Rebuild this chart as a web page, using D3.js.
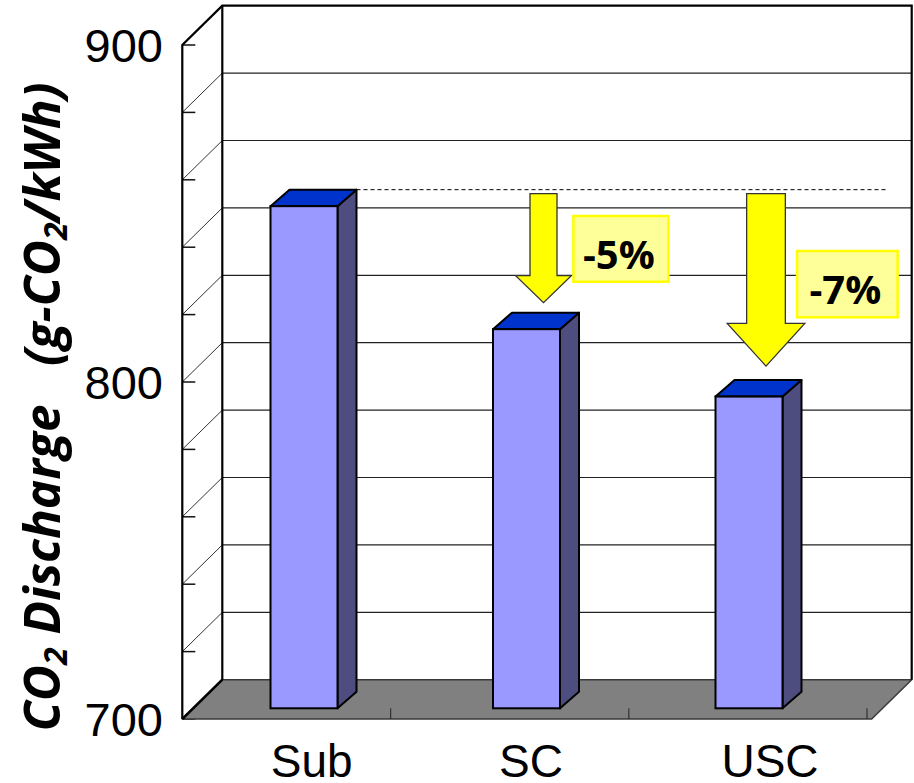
<!DOCTYPE html>
<html>
<head>
<meta charset="utf-8">
<script src="https://cdn.jsdelivr.net/npm/d3@7"></script>
<style>
  html, body { margin: 0; padding: 0; background: #ffffff; }
  svg { display: block; }
  text { white-space: pre; }
</style>
</head>
<body>
<svg id="chart" width="914" height="783"></svg>
<script>
// ---------------- data ----------------
const categories = ["Sub", "SC", "USC"];
const values = [849, 812.5, 792.5];           // g-CO2/kWh
const yTickLabels = [700, 800, 900];
const gridValues = [700, 720, 740, 760, 780, 800, 820, 840, 860, 880, 900];
const changeLabels = [null, "-5%", "-7%"];

// ---------------- layout / style ----------------
const W = 914, H = 783;
const axisX = 182.3;           // front-left vertical axis
const floorRightX = 871.7;     // front-right corner of floor
const DX = 40, DY = -39.3;     // wall depth offset
const barFrontDY = -10.7;      // bars sit a bit behind the front edge
const BDX = 19, BDY = -16.5;   // bar depth offset
const barW = 67;

// arrow styles (per category index)
const arrowShaft = [0, 27, 38.7];
const arrowHeadW = [0, 55.7, 77.6];
const arrowHeadH = [0, 27, 42.7];
const arrowGap = [0, 10, 14];
const boxW = [0, 95, 100.6];
const boxH = [0, 65.7, 66.3];
const boxDX = [0, 16.4, 11.7];
const boxTop = [0, 216, 251];

const colFront = "#9999ff", colSide = "#4d4d80", colTop = "#0033cc";

const svg = d3.select("#chart");

const yFront = d3.scaleLinear().domain([700, 900]).range([719, 45]);
const yBar = v => yFront(v) + barFrontDY;
const xC = d3.scalePoint().domain(categories).range([304, 749]);
const xTick = d3.scalePoint().domain(categories).range([390.7, 867]);

const yBack = v => yFront(v) + DY;
const backL = axisX + DX, backR = floorRightX + DX;

// back wall
svg.append("rect")
  .attr("x", backL).attr("y", yBack(900))
  .attr("width", backR - backL).attr("height", yBack(700) - yBack(900))
  .attr("fill", "#ffffff");

// back-wall gridlines
svg.append("g").selectAll("line")
  .data(gridValues.filter(v => v > 700 && v < 900))
  .join("line")
  .attr("x1", backL).attr("x2", backR)
  .attr("y1", d => yBack(d)).attr("y2", d => yBack(d))
  .attr("stroke", "#222").attr("stroke-width", 1.2);

// side-wall diagonals
svg.append("g").selectAll("line")
  .data(gridValues.filter(v => v > 700 && v < 900))
  .join("line")
  .attr("x1", axisX).attr("x2", axisX + DX)
  .attr("y1", d => yFront(d)).attr("y2", d => yBack(d))
  .attr("stroke", "#333").attr("stroke-width", 1);

// front axis tick marks
svg.append("g").selectAll("line")
  .data(gridValues)
  .join("line")
  .attr("x1", axisX).attr("x2", axisX + 13)
  .attr("y1", d => yFront(d)).attr("y2", d => yFront(d))
  .attr("stroke", "#111").attr("stroke-width", 1.5);

// floor
const floorPts = [
  [axisX, yFront(700)], [axisX + DX, yBack(700)],
  [backR, yBack(700)], [floorRightX, yFront(700)]
];
svg.append("polygon")
  .attr("points", floorPts.map(p => p.join(",")).join(" "))
  .attr("fill", "#808080").attr("stroke", "#3a3a3a").attr("stroke-width", 1.5)
  .attr("stroke-linejoin", "round");

// floor ticks
svg.append("g").selectAll("line")
  .data(categories)
  .join("line")
  .attr("x1", d => xTick(d)).attr("x2", d => xTick(d))
  .attr("y1", yBar(700)).attr("y2", yFront(700))
  .attr("stroke", "#222").attr("stroke-width", 1);

// wall outlines
const outline = svg.append("g").attr("fill", "none").attr("stroke", "#000");
outline.append("path")
  .attr("d", `M${axisX},${yFront(700)} L${axisX},${yFront(900)} L${backL},${yBack(900)} L${backR},${yBack(900)} L${backR},${yBack(700)}`)
  .attr("stroke-width", 2.2).attr("stroke-linejoin", "miter");
outline.append("line")
  .attr("x1", backL).attr("x2", backL)
  .attr("y1", yBack(900)).attr("y2", yBack(700))
  .attr("stroke-width", 2.2);
outline.append("line")
  .attr("x1", axisX).attr("x2", backL)
  .attr("y1", yFront(700)).attr("y2", yBack(700))
  .attr("stroke-width", 2.5);

// bars
const bars = svg.append("g").selectAll("g")
  .data(categories.map((c, i) => ({ c, v: values[i], i })))
  .join("g");

bars.each(function (d) {
  const g = d3.select(this);
  const xl = xC(d.c) - barW / 2, xr = xC(d.c) + barW / 2;
  const yt = yBar(d.v), yb = yBar(700);
  g.append("polygon")
    .attr("points", [[xr, yt], [xr + BDX, yt + BDY], [xr + BDX, yb + BDY], [xr, yb]].map(p => p.join(",")).join(" "))
    .attr("fill", colSide).attr("stroke", "#000").attr("stroke-width", 2).attr("stroke-linejoin", "round");
  g.append("polygon")
    .attr("points", [[xl, yt], [xl + BDX, yt + BDY], [xr + BDX, yt + BDY], [xr, yt]].map(p => p.join(",")).join(" "))
    .attr("fill", colTop).attr("stroke", "#000").attr("stroke-width", 2).attr("stroke-linejoin", "round");
  g.append("rect")
    .attr("x", xl).attr("y", yt).attr("width", barW).attr("height", yb - yt)
    .attr("fill", colFront).attr("stroke", "#000").attr("stroke-width", 2);
});

// dashed reference line at the Sub top
const refY = yBar(values[0]) + BDY;
svg.append("line")
  .attr("x1", xC(categories[0]) + barW / 2 + BDX).attr("x2", 888)
  .attr("y1", refY).attr("y2", refY)
  .attr("stroke", "#000").attr("stroke-width", 1).attr("stroke-dasharray", "4,3");

// arrows + labels
categories.forEach((c, i) => {
  if (!changeLabels[i]) return;
  const cx = xC(c) + 17;
  const top = refY + 4;
  const tip = yBar(values[i]) + BDY - arrowGap[i];
  const sw = arrowShaft[i] / 2, hw = arrowHeadW[i] / 2, hs = tip - arrowHeadH[i];
  const pts = [[cx - sw, top], [cx + sw, top], [cx + sw, hs], [cx + hw, hs], [cx, tip], [cx - hw, hs], [cx - sw, hs]];
  svg.append("polygon")
    .attr("points", pts.map(p => p.join(",")).join(" "))
    .attr("fill", "#ffff00").attr("stroke", "#333").attr("stroke-width", 1.3).attr("stroke-linejoin", "miter");

  const bx = cx + sw + boxDX[i], by = boxTop[i];
  svg.append("rect")
    .attr("x", bx).attr("y", by).attr("width", boxW[i]).attr("height", boxH[i])
    .attr("fill", "#ffff99").attr("stroke", "#ffff00").attr("stroke-width", 2.5);
  svg.append("text")
    .attr("x", bx + boxW[i] / 2 - 2).attr("y", by + 53)
    .attr("text-anchor", "middle")
    .attr("font-family", "'Open Sans', sans-serif").attr("font-weight", 700)
    .attr("font-size", 40).attr("fill", "#000")
    .text(changeLabels[i]);
});

// y tick labels
svg.append("g").selectAll("text")
  .data(yTickLabels)
  .join("text")
  .attr("x", 163).attr("y", d => yFront(d) + 17)
  .attr("text-anchor", "end")
  .attr("font-family", "'Liberation Sans', Arial, sans-serif")
  .attr("font-size", 47).attr("fill", "#000")
  .text(d => d);

// x category labels
const xLabelX = d3.scalePoint().domain(categories).range([311.8, 770]);
svg.append("g").selectAll("text")
  .data(categories)
  .join("text")
  .attr("x", (d, i) => i === 1 ? 531 : xLabelX(d)).attr("y", 777)
  .attr("text-anchor", "middle")
  .attr("font-family", "'Liberation Sans', Arial, sans-serif")
  .attr("font-size", 46).attr("fill", "#000")
  .text(d => d);

// y axis title
const title = svg.append("text")
  .attr("transform", "translate(60,407) rotate(-90)")
  .attr("text-anchor", "middle")
  .attr("font-family", "'Open Sans', sans-serif")
  .attr("font-weight", 700).attr("font-style", "italic")
  .attr("font-size", 49.5).attr("fill", "#000");
title.append("tspan").text("CO");
title.append("tspan").attr("font-size", 32).attr("dy", 7).text("2");
title.append("tspan").attr("dy", -7).text(" Discharge   (g-CO");
title.append("tspan").attr("font-size", 32).attr("dy", 7).text("2");
title.append("tspan").attr("dy", -7).text("/kWh)");
</script>
</body>
</html>
